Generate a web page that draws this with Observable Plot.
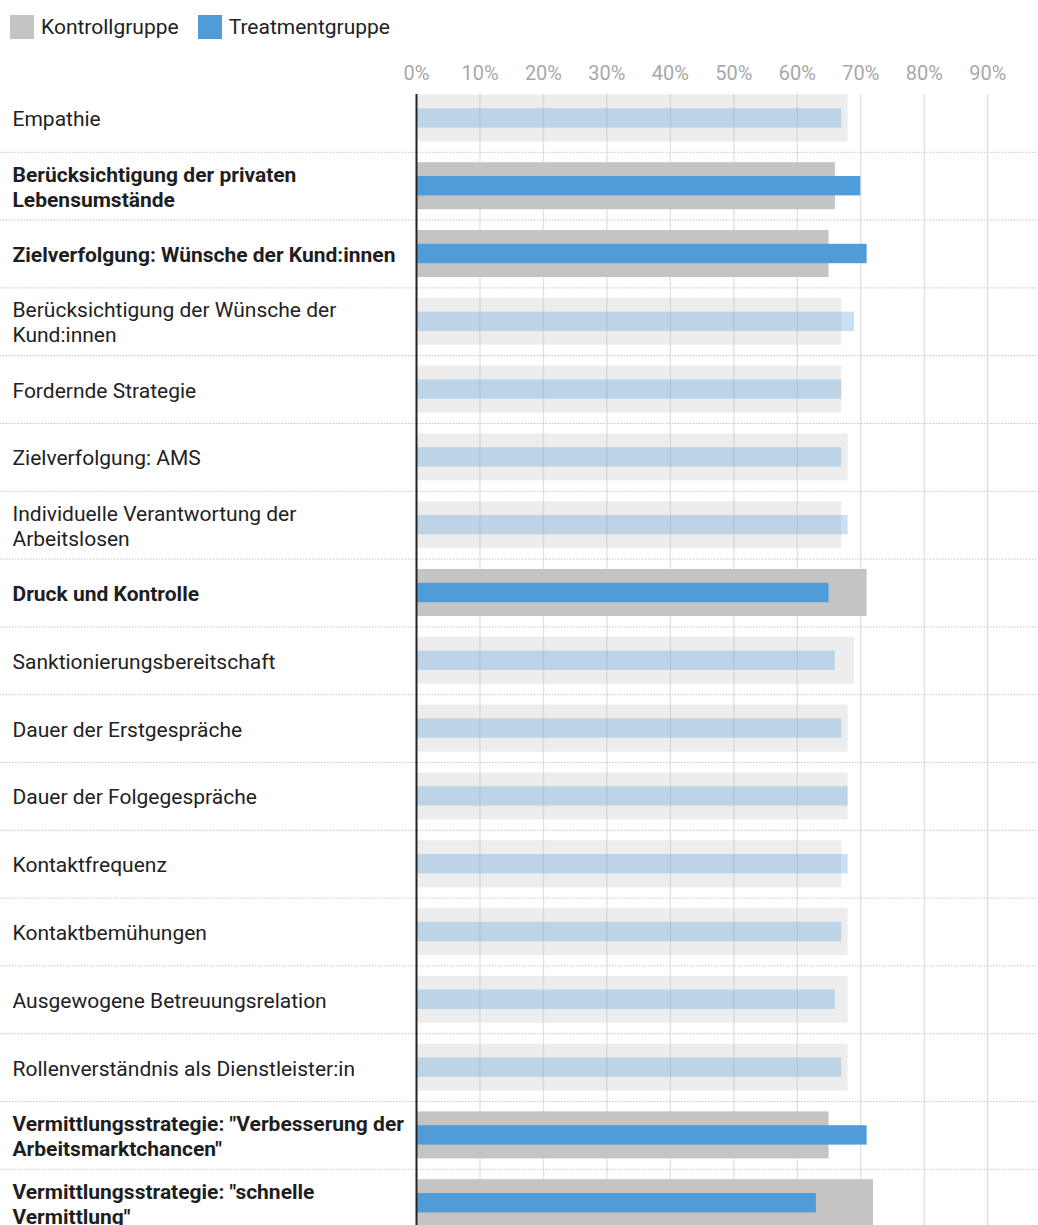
<!DOCTYPE html>
<html>
<head>
<meta charset="utf-8">
<script src="https://cdn.jsdelivr.net/npm/d3@7"></script>
<script src="https://cdn.jsdelivr.net/npm/@observablehq/plot@0.6"></script>
<style>
  html, body { margin: 0; padding: 0; background: #fff; font-family: Roboto, "Noto Sans", sans-serif; }
  #legend { height: 50px; box-sizing: border-box; padding: 15px 0 0 10px; display: flex; align-items: flex-start; }
  #legend .item { display: flex; align-items: center; margin-right: 19px; height: 24px; }
  #legend .sw { width: 24px; height: 24px; margin-right: 7px; }
  #legend .lab { font-size: 21px; color: #222; line-height: 24px; }
  #chart svg { display: block; }
</style>
</head>
<body>
<div id="legend"></div>
<div id="chart"></div>
<script>
const categories = [
  "Empathie",
  "Berücksichtigung der privaten\nLebensumstände",
  "Zielverfolgung: Wünsche der Kund:innen",
  "Berücksichtigung der Wünsche der\nKund:innen",
  "Fordernde Strategie",
  "Zielverfolgung: AMS",
  "Individuelle Verantwortung der\nArbeitslosen",
  "Druck und Kontrolle",
  "Sanktionierungsbereitschaft",
  "Dauer der Erstgespräche",
  "Dauer der Folgegespräche",
  "Kontaktfrequenz",
  "Kontaktbemühungen",
  "Ausgewogene Betreuungsrelation",
  "Rollenverständnis als Dienstleister:in",
  "Vermittlungsstrategie: \"Verbesserung der\nArbeitsmarktchancen\"",
  "Vermittlungsstrategie: \"schnelle\nVermittlung\""
];
const kontrollgruppe  = [0.68, 0.66, 0.65, 0.67, 0.67, 0.68, 0.67, 0.71, 0.69, 0.68, 0.68, 0.67, 0.68, 0.68, 0.68, 0.65, 0.72];
const treatmentgruppe = [0.67, 0.70, 0.71, 0.69, 0.67, 0.67, 0.68, 0.65, 0.66, 0.67, 0.68, 0.68, 0.67, 0.66, 0.67, 0.71, 0.63];
const significant     = [false, true, true, false, false, false, false, true, false, false, false, false, false, false, false, true, true];
const tickValues = [0, 0.1, 0.2, 0.3, 0.4, 0.5, 0.6, 0.7, 0.8, 0.9];
const seriesNames = ["Kontrollgruppe", "Treatmentgruppe"];
const seriesColors = ["#c4c4c4", "#4f9cd8"];

// legend
const legend = document.getElementById("legend");
seriesNames.forEach((n, i) => {
  const it = document.createElement("div"); it.className = "item";
  const sw = document.createElement("div"); sw.className = "sw"; sw.style.background = seriesColors[i];
  const lb = document.createElement("div"); lb.className = "lab"; lb.textContent = n;
  it.appendChild(sw); it.appendChild(lb); legend.appendChild(it);
});

const rows = categories.map((c, i) => ({
  label: c,
  control: kontrollgruppe[i],
  treatment: treatmentgruppe[i],
  sig: significant[i]
}));

const marginLeft = 416;
const marginTop = 34;
const rowH = 67.8;
const height = Math.round(marginTop + rowH * categories.length + 4);

const chart = Plot.plot({
  width: 1038,
  height: height,
  marginLeft: marginLeft,
  marginRight: 0,
  marginTop: marginTop,
  marginBottom: height - marginTop - rowH * categories.length,
  style: { fontFamily: "Roboto, 'Noto Sans', sans-serif", fontSize: "20px", background: "#fff", overflow: "visible" },
  x: { domain: [0, 0.98], axis: null },
  y: { domain: categories, padding: 0, round: false, axis: null },
  marks: [
    Plot.ruleX(tickValues.slice(1), { stroke: "#e2e2e2", strokeWidth: 1.4, insetTop: 10 }),
    Plot.barX(rows, {
      x: "control", y: "label", fill: seriesColors[0],
      fillOpacity: d => d.sig ? 1 : 0.3,
      insetTop: 10.4, insetBottom: 10.4
    }),
    Plot.barX(rows, {
      x: "treatment", y: "label", fill: seriesColors[1],
      fillOpacity: d => d.sig ? 1 : 0.3,
      insetTop: 24.2, insetBottom: 24.2
    }),
    Plot.ruleY(rows.slice(0, -1), {
      y: "label", dy: rowH / 2, stroke: "#c6c6c6", strokeWidth: 1,
      strokeDasharray: "1.5,1.5", insetLeft: -marginLeft
    }),
    Plot.ruleX([0], { stroke: "#222", strokeWidth: 2, insetTop: 10 }),
    Plot.text(rows, {
      filter: d => !d.sig, y: "label", text: "label", frameAnchor: "left",
      dx: -(marginLeft - 12), textAnchor: "start", fontSize: 21, fill: "#222", lineHeight: 1.2
    }),
    Plot.text(rows, {
      filter: d => d.sig, y: "label", text: "label", frameAnchor: "left",
      dx: -(marginLeft - 12), textAnchor: "start", fontSize: 21, fontWeight: "bold", fill: "#1e1e1e", lineHeight: 1.2
    }),
    Plot.axisX(tickValues, {
      anchor: "top", tickSize: 0, tickPadding: 5, label: null,
      tickFormat: d => Math.round(d * 100) + "%", fill: "#a8a8a8", fontSize: 20
    })
  ]
});
document.getElementById("chart").appendChild(chart);
</script>
</body>
</html>
